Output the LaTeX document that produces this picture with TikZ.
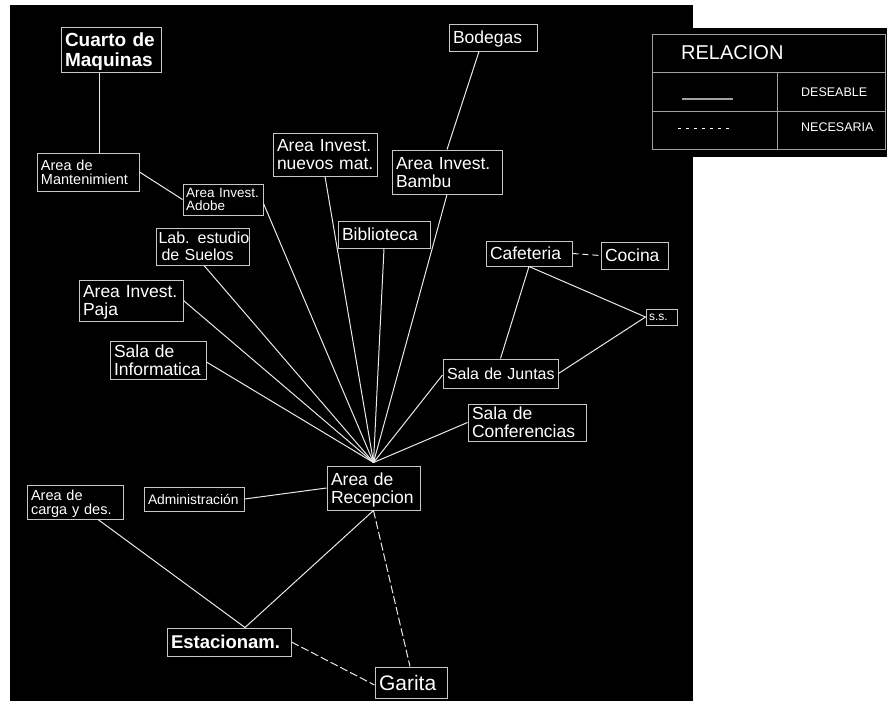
\documentclass[tikz,border=0pt]{standalone}
\usepackage{fontspec}
\setmainfont{Liberation Sans}
\usetikzlibrary{calc}
\definecolor{boxline}{HTML}{C8C8C8}
\definecolor{linkline}{HTML}{EAEAEA}
\definecolor{legline}{HTML}{A0A0A0}
\tikzset{
  room/.style={draw=boxline, line width=1pt, text=white, align=left,
    inner xsep=4pt, inner ysep=0pt, text depth=0pt,
    font=\fontsize{17.5}{18}\selectfont},
  tworoom/.style={room, text depth=18pt},
  smallroom/.style={room, font=\fontsize{14.5}{14.5}\selectfont, text depth=14.5pt},
  tinyroom/.style={room, font=\fontsize{13.5}{12.5}\selectfont, text depth=12.5pt},
  bigroom/.style={room, font=\fontsize{19}{20}\selectfont\bfseries},
  link/.style={draw=linkline, line width=1pt},
  needlink/.style={link, dash pattern=on 8pt off 3pt},
  legtext/.style={text=white, inner sep=0pt}
}
\begin{document}
\begin{tikzpicture}[x=1pt, y=-1pt]
\useasboundingbox (0,0) rectangle (887,704);
\fill[white] (0,0) rectangle (887,704);
% drawing panel and legend backdrop
\fill[black] (10,5) rectangle (693,701);
\fill[black] (652,28) rectangle (887,157);

% rooms (each line kept whole in an \mbox)
\node[bigroom, text depth=20pt, text width=92pt, minimum height=45pt] (cuarto) at (111,49.5) {\mbox{Cuarto de}\\\mbox{Maquinas}};
\node[smallroom, text width=94pt, minimum height=38pt] (mant) at (88,172) {\mbox{Area de}\\\mbox{Mantenimient}};
\node[tinyroom, inner xsep=3pt, text width=74pt, minimum height=31pt] (adobe) at (223,199.5) {\mbox{Area Invest.}\\\mbox{Adobe}};
\node[tworoom, text width=96pt, minimum height=43pt] (nuevos) at (325,154.5) {\mbox{Area Invest.}\\\mbox{nuevos mat.}};
\node[room, text width=80pt, minimum height=27pt] (bodegas) at (493,37.5) {\mbox{Bodegas}};
\node[tworoom, text width=102pt, minimum height=44pt] (bambu) at (447,172) {\mbox{Area Invest.}\\\mbox{Bambu}};
\node[room, text width=84pt, minimum height=27pt] (biblio) at (384,234.5) {\mbox{Biblioteca}};
\node[tworoom, font=\fontsize{16}{17}\selectfont, text depth=17pt, inner xsep=2.5pt, text width=88pt, minimum height=37pt] (suelos) at (202.5,246.5) {\mbox{Lab. estudio}\\\mbox{\hspace*{3pt}de Suelos}};
\node[tworoom, text width=96pt, minimum height=41pt] (paja) at (131,300.5) {\mbox{Area Invest.}\\\mbox{Paja}};
\node[tworoom, text width=88pt, minimum height=38pt] (info) at (158,360) {\mbox{Sala de}\\\mbox{Informatica}};
\node[room, text width=78pt, minimum height=25pt] (cafe) at (529,253.5) {\mbox{Cafeteria}};
\node[room, text width=59pt, minimum height=27pt] (cocina) at (634.5,255.5) {\mbox{Cocina}};
\node[room, font=\fontsize{12}{12}\selectfont, inner xsep=3pt, text width=25pt, minimum height=16pt] (ss) at (661.5,317) {\mbox{s.s.}};
\node[room, font=\fontsize{16}{16}\selectfont, text width=107pt, minimum height=29pt] (juntas) at (500.5,373.5) {\mbox{Sala de Juntas}};
\node[tworoom, text width=110pt, minimum height=37pt] (conf) at (527,422.5) {\mbox{Sala de}\\\mbox{Conferencias}};
\node[tworoom, text width=85pt, minimum height=44pt] (recep) at (373.5,488) {\mbox{Area de}\\\mbox{Recepcion}};
\node[room, font=\fontsize{13.8}{14}\selectfont, text width=92pt, minimum height=24pt] (admin) at (194,499) {\mbox{Administración}};
\node[smallroom, text width=88pt, minimum height=34pt] (carga) at (75,502) {\mbox{Area de}\\\mbox{carga y des.}};
\node[room, font=\fontsize{18.5}{19}\selectfont\bfseries, text width=116pt, minimum height=28pt] (estac) at (229,642) {\mbox{Estacionam.}};
\node[room, font=\fontsize{21}{21}\selectfont, text width=64pt, minimum height=31pt] (garita) at (411,682.5) {\mbox{Garita}};

% meeting point above the reception
\coordinate (conv) at ([yshift=3pt]recep.north);

% desirable relations
\draw[link] ([xshift=-12pt]cuarto.south) -- ([xshift=11pt]mant.north);
\draw[link] (mant.east) -- (adobe.west);
\draw[link] ([yshift=-4pt]adobe.east) -- (conv);
\draw[link] (nuevos.south) -- (conv);
\draw[link] ([xshift=-14pt]bodegas.south) -- (bambu.north);
\draw[link] (bambu.south) -- (conv);
\draw[link] (biblio.south) -- (conv);
\draw[link] ([xshift=1.5pt]suelos.south) -- (conv);
\draw[link] (paja.east) -- (conv);
\draw[link] ([yshift=-2pt]info.east) -- (conv);
\draw[link] ([yshift=-1.5pt]juntas.west) -- (conv);
\draw[link] (conf.west) -- (conv);
\draw[link] (cafe.south) -- (ss.west);
\draw[link] (cafe.south) -- (juntas.north);
\draw[link] (juntas.east) -- (ss.west);
\draw[link] (admin.east) -- (recep.west);
\draw[link] ([xshift=23pt]carga.south) -- ([xshift=16pt]estac.north);
\draw[link] (recep.south) -- ([xshift=16pt]estac.north);

% necessary relations
\draw[link, dash pattern=on 6pt off 4pt] (cafe.east) -- (cocina.west);
\draw[needlink] (recep.south) -- ([xshift=-1pt]garita.north);
\draw[needlink] (estac.east) -- ([yshift=-2.5pt]garita.west);

% legend
\draw[legline, line width=1pt] (652,34) rectangle (885,149);
\draw[legline, line width=1pt] (652,72) -- (885,72);
\draw[legline, line width=1pt] (652,111) -- (885,111);
\draw[legline, line width=1pt] (777,72) -- (777,149);
\node[legtext, font=\fontsize{20}{20}\selectfont, anchor=west] (legtitle) at (681,53) {RELACION};
\node[legtext, font=\fontsize{12.5}{12.5}\selectfont, anchor=west] (legdes) at (801,92) {DESEABLE};
\node[legtext, font=\fontsize{12.5}{12.5}\selectfont, anchor=west] (legnec) at (801,127.5) {NECESARIA};
\coordinate (solidA) at (682,99);
\coordinate (solidB) at (733,99);
\coordinate (dashA) at (678,128);
\coordinate (dashB) at (731,128);
\draw[legline, line width=1.2pt] (solidA) -- (solidB);
\draw[white, line width=1pt, dash pattern=on 3pt off 5pt] (dashA) -- (dashB);
\end{tikzpicture}
\end{document}
